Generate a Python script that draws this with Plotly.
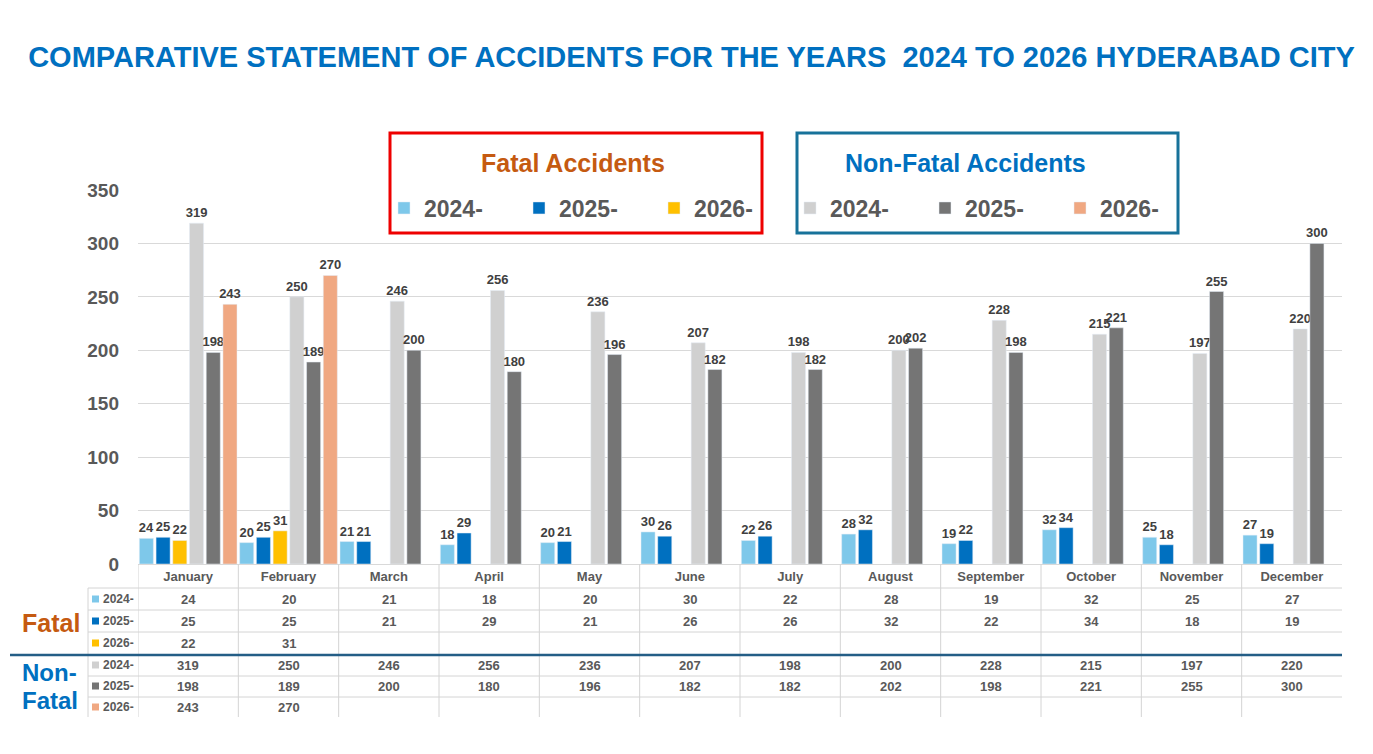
import plotly.graph_objects as go

# ---------------- data ----------------
months = ["January", "February", "March", "April", "May", "June",
          "July", "August", "September", "October", "November", "December"]
series_labels = ["2024-", "2025-", "2026-"]

fatal_2024 = [24, 20, 21, 18, 20, 30, 22, 28, 19, 32, 25, 27]
fatal_2025 = [25, 25, 21, 29, 21, 26, 26, 32, 22, 34, 18, 19]
fatal_2026 = [22, 31, None, None, None, None, None, None, None, None, None, None]

nonfatal_2024 = [319, 250, 246, 256, 236, 207, 198, 200, 228, 215, 197, 220]
nonfatal_2025 = [198, 189, 200, 180, 196, 182, 182, 202, 198, 221, 255, 300]
nonfatal_2026 = [243, 270, None, None, None, None, None, None, None, None, None, None]

y_ticks = [0, 50, 100, 150, 200, 250, 300, 350]

title_text = "COMPARATIVE STATEMENT OF ACCIDENTS FOR THE YEARS  2024 TO 2026 HYDERABAD CITY"

# ---------------- styling ----------------
FONT = "Arial, Liberation Sans, sans-serif"
fatal_colors = ["#7EC8EA", "#0070C0", "#FFC000"]
nonfatal_colors = ["#D0D0D0", "#757575", "#F0A882"]
GRID = "#D9D9D9"
TXT = "#595959"

OFF = 8  # page body margin offset
W, H = 1373 - 2 * OFF, 754 - 2 * OFF
# plot area in reference pixels: x 138..1342, y 190..564
PL, PR, PT, PB = 138, 1342, 190, 564
L = PL - OFF
T = PT - OFF
R = W - (PR - OFF)
B = H - (PB - OFF)


def fx(px):
    return (px - PL) / (PR - PL)


def fy(py):
    return (PB - py) / (PB - PT)


fig = go.Figure()

fatal_series = [fatal_2024, fatal_2025, fatal_2026]
nonfatal_series = [nonfatal_2024, nonfatal_2025, nonfatal_2026]

label_font = dict(family=FONT, size=13, color="#404040", weight="bold")

for vals, name, col in zip(fatal_series, series_labels, fatal_colors):
    fig.add_trace(go.Bar(
        x=months, y=vals, name=name, marker_color=col, legend="legend",
        text=[("" if v is None else str(v)) for v in vals],
        textposition="outside", constraintext="none", cliponaxis=False,
        textfont=label_font, hoverinfo="x+y+name",
    ))
for vals, name, col in zip(nonfatal_series, series_labels, nonfatal_colors):
    fig.add_trace(go.Bar(
        x=months, y=vals, name=name, marker_color=col, legend="legend2",
        text=[("" if v is None else str(v)) for v in vals],
        textposition="outside", constraintext="none", cliponaxis=False,
        textfont=label_font, hoverinfo="x+y+name",
    ))

shapes = []
annotations = []

# Legend boxes
shapes.append(dict(type="rect", xref="paper", yref="paper",
                   x0=fx(390), x1=fx(762), y0=fy(233), y1=fy(133),
                   line=dict(color="#EE0000", width=3), fillcolor="rgba(0,0,0,0)"))
shapes.append(dict(type="rect", xref="paper", yref="paper",
                   x0=fx(797), x1=fx(1178), y0=fy(233), y1=fy(133),
                   line=dict(color="#17729A", width=3), fillcolor="rgba(0,0,0,0)"))
annotations.append(dict(text="<b>Fatal Accidents</b>", xref="paper", yref="paper",
                        x=fx(573), y=fy(163), showarrow=False, xanchor="center", yanchor="middle",
                        font=dict(family=FONT, size=25, color="#C55A11")))
annotations.append(dict(text="<b>Non-Fatal Accidents</b>", xref="paper", yref="paper",
                        x=fx(965), y=fy(163), showarrow=False, xanchor="center", yanchor="middle",
                        font=dict(family=FONT, size=25, color="#0070C0")))

# ---------------- data table ----------------
LINE = dict(color="#D4D4D4", width=1)
row_lines = [588, 610, 632, 676, 697]
for py in row_lines:
    shapes.append(dict(type="line", xref="paper", yref="paper",
                       x0=fx(88), x1=1, y0=fy(py), y1=fy(py), line=LINE))
# vertical column separators
for i in range(len(months)):
    shapes.append(dict(type="line", xref="x", yref="paper",
                       x0=i - 0.5, x1=i - 0.5, y0=0, y1=fy(717), line=LINE))
shapes.append(dict(type="line", xref="paper", yref="paper",
                   x0=fx(88), x1=fx(88), y0=fy(588), y1=fy(717), line=LINE))
# thick separator between fatal and non-fatal
shapes.append(dict(type="line", xref="paper", yref="paper",
                   x0=fx(10), x1=1, y0=fy(655), y1=fy(655),
                   line=dict(color="#245E86", width=2.5)))

fatal_row_y = [599, 621, 643]
nonfatal_row_y = [665, 686, 707]


def add_rows(series, colors, rows_y):
    for vals, name, col, py in zip(series, series_labels, colors, rows_y):
        shapes.append(dict(type="rect", xref="paper", yref="paper",
                           x0=fx(92), x1=fx(99), y0=fy(py + 3.5), y1=fy(py - 3.5),
                           line=dict(width=0), fillcolor=col))
        annotations.append(dict(text="<b>" + name + "</b>", xref="paper", yref="paper",
                                x=fx(101), y=fy(py), showarrow=False,
                                xanchor="left", yanchor="middle",
                                font=dict(family=FONT, size=12, color=TXT)))
        for m, v in zip(months, vals):
            if v is None:
                continue
            annotations.append(dict(text="<b>%d</b>" % v, xref="x", yref="paper",
                                    x=m, y=fy(py), showarrow=False,
                                    xanchor="center", yanchor="middle",
                                    font=dict(family=FONT, size=13, color=TXT)))


add_rows(fatal_series, fatal_colors, fatal_row_y)
add_rows(nonfatal_series, nonfatal_colors, nonfatal_row_y)

annotations.append(dict(text="<b>Fatal</b>", xref="paper", yref="paper",
                        x=fx(20), y=fy(623), showarrow=False, xanchor="left", yanchor="middle",
                        font=dict(family=FONT, size=25, color="#C55A11")))
annotations.append(dict(text="<b>Non-</b>", xref="paper", yref="paper",
                        x=fx(20), y=fy(672), showarrow=False, xanchor="left", yanchor="middle",
                        font=dict(family=FONT, size=24, color="#0070C0")))
annotations.append(dict(text="<b>Fatal</b>", xref="paper", yref="paper",
                        x=fx(20), y=fy(700), showarrow=False, xanchor="left", yanchor="middle",
                        font=dict(family=FONT, size=24, color="#0070C0")))

legend_common = dict(orientation="h", xanchor="left", yanchor="middle",
                     bgcolor="rgba(0,0,0,0)", borderwidth=0,
                     font=dict(family=FONT, size=23, color=TXT, weight="bold"),
                     entrywidth=90, entrywidthmode="pixels", traceorder="normal",
                     itemclick=False, itemdoubleclick=False)

fig.update_layout(
    width=W, height=H,
    margin=dict(l=L, r=R, t=T, b=B, pad=0),
    paper_bgcolor="white", plot_bgcolor="white",
    barmode="group", bargap=0.0, bargroupgap=0.16,
    title=dict(text="<b>" + title_text + "</b>", x=(691.5 - OFF) / W, xanchor="center",
               y=1 - (57 - OFF) / H, yanchor="middle",
               font=dict(family=FONT, size=29, color="#0070C0")),
    xaxis=dict(type="category", categoryorder="array", categoryarray=months,
               range=[-0.5, 11.5], showgrid=False, showline=False, zeroline=False,
               ticks="", ticklabelstandoff=3,
               tickfont=dict(family=FONT, size=13, color=TXT, weight="bold"),
               fixedrange=True),
    yaxis=dict(range=[0, 350], tickvals=y_ticks, showgrid=True, gridcolor=GRID, gridwidth=1,
               zeroline=True, zerolinecolor=GRID, zerolinewidth=1, showline=False,
               ticks="", ticklabelstandoff=18,
               tickfont=dict(family=FONT, size=19, color=TXT, weight="bold"),
               fixedrange=True),
    legend=dict(x=fx(384), y=fy(208), **legend_common),
    legend2=dict(x=fx(790), y=fy(208), **legend_common),
    shapes=shapes,
    annotations=annotations,
    showlegend=True,
)

fig.write_html("out.html")
